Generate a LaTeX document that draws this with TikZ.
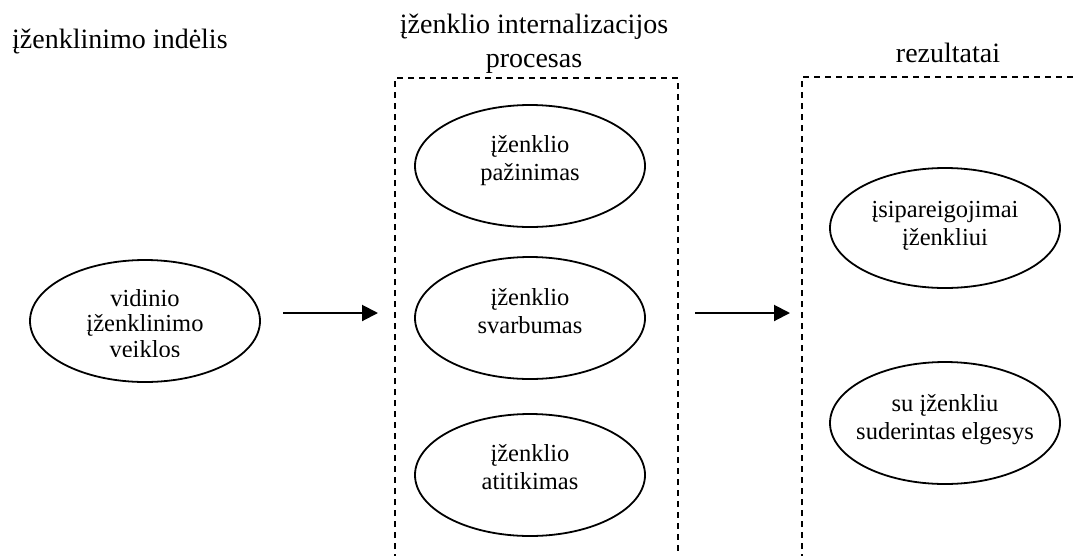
\documentclass[tikz,border=0pt]{standalone}
\usepackage{fontspec}
\setmainfont{Liberation Serif}
\usetikzlibrary{arrows.meta,shapes.geometric}
\begin{document}
\begin{tikzpicture}[x=1pt,y=-1pt,
  oval/.style={draw, ellipse, line width=1.8pt, minimum width=230pt, minimum height=122pt, inner sep=0pt},
  ovaltext/.style={anchor=base, align=center, inner sep=0pt, font=\fontsize{24.5}{28}\selectfont},
  heading/.style={anchor=base, align=center, inner sep=0pt, font=\fontsize{28}{34}\selectfont},
  frame/.style={dash pattern=on 6pt off 5pt, line width=1.8pt},
  flow/.style={line width=2pt, -{Triangle[length=16pt,width=16pt]}}]
\useasboundingbox (0,0) rectangle (1075,555);
\clip (0,0) rectangle (1075,555);

% headings (base anchor = baseline of the last line)
\node[heading, anchor=base west] (hin) at (12,48) {įženklinimo indėlis};
\node[heading] (hproc) at (534,67) {įženklio internalizacijos\\procesas};
\node[heading] (hres) at (948,62) {rezultatai};

% dashed frames, open at the bottom
\draw[frame] (395,560) -- (395,78) -- (678,78) -- (678,560);
\draw[frame] (802,560) -- (802,77) -- (1080,77);

% input
\node[oval] (in) at (145,321) {};
\begin{scope}
  \clip (30,259) rectangle (260,356);
  \node[ovaltext, font=\fontsize{24.5}{25.5}\selectfont] (intext) at (145,357) {vidinio\\įženklinimo\\veiklos};
\end{scope}

% process
\node[oval] (p1) at (530,166) {};
\node[ovaltext] (p1t) at (530,180) {įženklio\\pažinimas};
\node[oval] (p2) at (530,318) {};
\node[ovaltext] (p2t) at (530,333) {įženklio\\svarbumas};
\node[oval] (p3) at (530,475) {};
\node[ovaltext] (p3t) at (530,489) {įženklio\\atitikimas};

% results
\node[oval, minimum height=120pt] (r1) at (945,228) {};
\node[ovaltext] (r1t) at (945,245) {įsipareigojimai\\įženkliui};
\node[oval, minimum height=122pt] (r2) at (945,423) {};
\node[ovaltext] (r2t) at (945,439) {su įženkliu\\suderintas elgesys};

% arrows
\coordinate (a1s) at (283,313);
\coordinate (a1e) at (378,313);
\coordinate (a2s) at (695,313);
\coordinate (a2e) at (790,313);
\draw[flow] (a1s) -- (a1e);
\draw[flow] (a2s) -- (a2e);
\end{tikzpicture}
\end{document}
